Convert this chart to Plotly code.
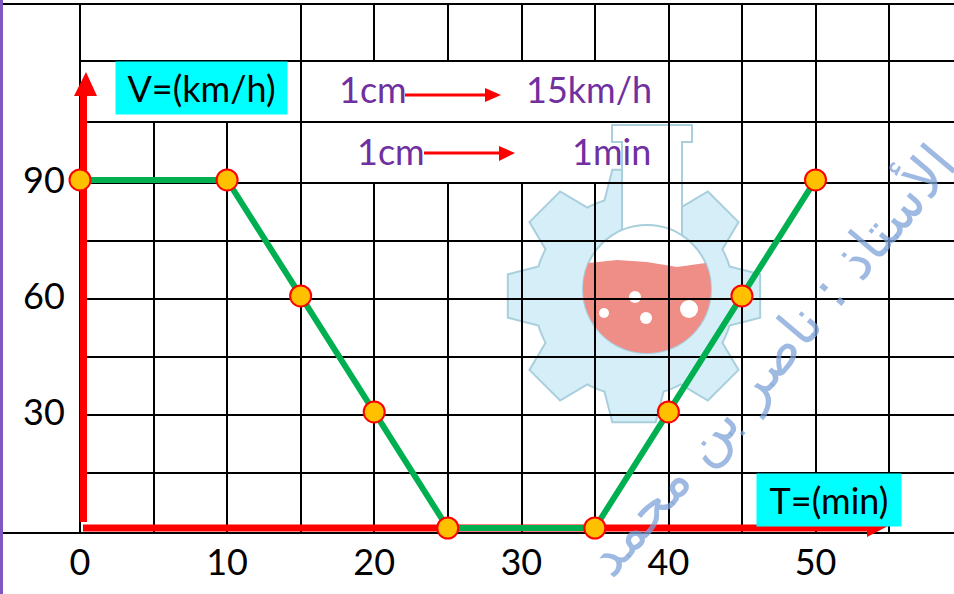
import numpy as np
import plotly.graph_objects as go

# ---------------- data ----------------
time_min = [0, 10, 15, 20, 25, 35, 40, 45, 50]
speed_kmh = [90, 90, 60, 30, 0, 0, 30, 60, 90]
x_ticks = [0, 10, 20, 30, 40, 50]
y_ticks = [30, 60, 90]
scale_left = ["1cm", "1cm"]
scale_right = ["15km/h", "1min"]

# ---------------- calibration (reference pixels -> data) ----------------
W, H = 954, 594
X0_PX, X_PX_PER = 80.0, 14.71
Y0_PX, Y_PX_PER = 528.0, 3.867


def dx(px):
    return (px - X0_PX) / X_PX_PER


def dy(py):
    return (Y0_PX - py) / Y_PX_PER


shapes = []


def seg(x0, y0, x1, y1, color="black", width=2):
    shapes.append(dict(type="line", xref="x", yref="y", layer="below",
                       x0=dx(x0), y0=dy(y0), x1=dx(x1), y1=dy(y1),
                       line=dict(color=color, width=width)))


def poly(points, fill, line_color=None, line_width=0):
    p = "M " + " L ".join(f"{dx(a):.4f},{dy(b):.4f}" for a, b in points) + " Z"
    shapes.append(dict(type="path", xref="x", yref="y", layer="below", path=p,
                       fillcolor=fill,
                       line=dict(color=line_color or fill, width=line_width)))


def circ(cx, cy, r, fill, line_color=None, line_width=0):
    shapes.append(dict(type="circle", xref="x", yref="y", layer="below",
                       x0=dx(cx - r), x1=dx(cx + r), y0=dy(cy + r), y1=dy(cy - r),
                       fillcolor=fill,
                       line=dict(color=line_color or fill, width=line_width)))


# ---------------- watermark logo (gear + flask) ----------------
gcx, gcy = 634, 296
R_in, R_out = 100, 128
a1, a2 = 0.30, 0.17
gear = []
for k in range(8):
    th = np.deg2rad(k * 45)
    gear.append((gcx + R_in * np.cos(th - a1), gcy + R_in * np.sin(th - a1)))
    gear.append((gcx + R_out * np.cos(th - a2), gcy + R_out * np.sin(th - a2)))
    gear.append((gcx + R_out * np.cos(th + a2), gcy + R_out * np.sin(th + a2)))
    gear.append((gcx + R_in * np.cos(th + a1), gcy + R_in * np.sin(th + a1)))
    for t in np.linspace(th + a1, th + np.deg2rad(45) - a1, 6)[1:-1]:
        gear.append((gcx + R_in * np.cos(t), gcy + R_in * np.sin(t)))
poly(gear, "#D5EEF8", "#A9CFDD", 2)
# flask neck
poly([(612, 125), (692, 125), (692, 142), (682, 142), (682, 240), (622, 240),
      (622, 142), (612, 142)], "#FFFFFF", "#A9CFDD", 2)
# bulb
bcx, bcy, br = 647, 289, 64
circ(bcx, bcy, br, "#FFFFFF", "#A9CFDD", 2)
yl = 263
phi1 = np.arcsin((yl - bcy) / br)
angs = np.linspace(phi1, np.pi - phi1, 40)
liquid = [(bcx + br * np.cos(t), bcy + br * np.sin(t)) for t in angs]
liquid += [(bcx - 30, yl - 3), (bcx, yl - 1), (bcx + 30, yl + 4)]
poly(liquid, "#EF8E86")
for (bx, by, rr) in [(635, 297, 6), (604, 313, 5), (646, 318, 6), (689, 309, 9)]:
    circ(bx, by, rr, "#FFFFFF")

# ---------------- table grid ----------------
rows_px = [4, 61, 122, 183, 241, 299, 357, 415, 473, 533]
cols_px = [80, 154, 227, 301, 374, 448, 522, 595, 669, 742, 816, 889]
seg(3, 4, W, 4)
seg(3, 533, W, 533)
for r in rows_px[1:-1]:
    seg(80, r, W, r)
for c in cols_px:
    if c in (154, 227):
        seg(c, 122, c, 533)
    elif c in (374, 448, 522, 595):
        seg(c, 4, c, 61)
        seg(c, 183, c, 533)
    else:
        seg(c, 4, c, 533)
# purple left border
shapes.append(dict(type="line", xref="paper", yref="paper", x0=1.5 / W, x1=1.5 / W,
                   y0=0, y1=1, line=dict(color="#7E57C2", width=3), layer="below"))

# ---------------- red axes arrows ----------------
seg(83.5, 522, 83.5, 92, "#FF0000", 7)
poly([(86, 72), (97, 96), (74, 96)], "#FF0000")
seg(83, 528, 872, 528, "#FF0000", 7)
poly([(890, 525), (867, 513), (867, 537)], "#FF0000")
# small scale arrows
seg(405, 95, 488, 95, "#FF0000", 3)
poly([(501, 95), (485, 88), (485, 102)], "#FF0000")
seg(424, 153, 502, 153, "#FF0000", 3)
poly([(515, 153), (499, 146), (499, 161)], "#FF0000")

# ---------------- figure ----------------
fig = go.Figure()
fig.add_trace(go.Scatter(
    x=time_min, y=speed_kmh, mode="lines+markers",
    line=dict(color="#00B050", width=6),
    marker=dict(size=21, color="#FFC000", line=dict(color="#FF0000", width=2)),
    cliponaxis=False, showlegend=False, hoverinfo="x+y"))

FONT = "Lato"
annotations = [
    dict(text="الأستاذ : ناصر بن محمد", x=dx(770), y=dy(360), xref="x", yref="y",
         showarrow=False, textangle=-50,
         font=dict(family="DejaVu Sans", size=56, color="rgba(125,163,216,0.75)")),
    dict(text="V=(km/h)", x=dx(201.5), y=dy(88), xref="x", yref="y", showarrow=False,
         width=171, height=52, bgcolor="#00FFFF", borderpad=0,
         font=dict(family=FONT, size=36, color="black")),
    dict(text="T=(min)", x=dx(829), y=dy(500), xref="x", yref="y", showarrow=False,
         width=144, height=52, bgcolor="#00FFFF", borderpad=0,
         font=dict(family=FONT, size=36, color="black")),
]
for txt, xp, yp in [(scale_left[0], 337, 89), (scale_right[0], 524, 89),
                    (scale_left[1], 355, 151), (scale_right[1], 570, 151)]:
    annotations.append(dict(text=txt, x=dx(xp), y=dy(yp), xref="x", yref="y",
                            xanchor="left", yanchor="middle", showarrow=False,
                            font=dict(family=FONT, size=36, color="#7030A0")))

fig.update_layout(
    width=W, height=H,
    margin=dict(l=0, r=0, t=0, b=0),
    paper_bgcolor="white", plot_bgcolor="white",
    shapes=shapes, annotations=annotations,
    xaxis=dict(range=[dx(0), dx(W)], tickvals=x_ticks, showgrid=False,
               zeroline=False, showline=False, ticks="",
               ticklabelposition="inside", ticklabelstandoff=9,
               tickfont=dict(family=FONT, size=36, color="black"), fixedrange=True),
    yaxis=dict(range=[dy(H), dy(0)], tickvals=y_ticks, showgrid=False,
               zeroline=False, showline=False, ticks="",
               ticklabelposition="inside", ticklabelstandoff=20,
               tickfont=dict(family=FONT, size=36, color="black"), fixedrange=True),
    showlegend=False,
)

fig.write_html("out.html",
               config={"displayModeBar": False},
               post_script="document.body.style.margin='0';"
                           "document.body.style.overflow='hidden';")
